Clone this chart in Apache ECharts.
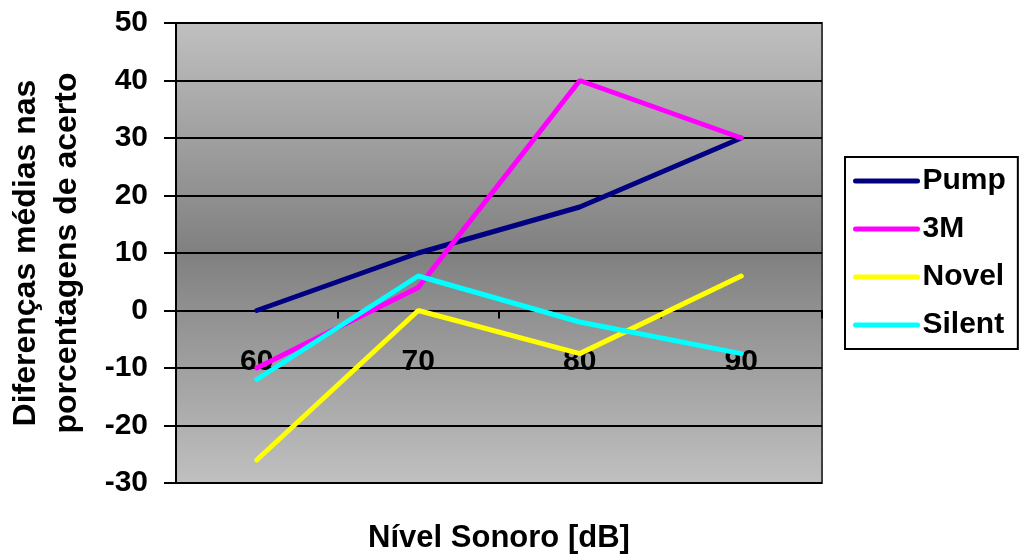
<!DOCTYPE html>
<html>
<head>
<meta charset="utf-8">
<script src="https://cdn.jsdelivr.net/npm/echarts@6/dist/echarts.min.js"></script>
<style>html,body{margin:0;padding:0;background:#fff}#c{width:1022px;height:556px}</style>
</head>
<body>
<div id="c"></div>
<script>
const categories = ['60', '70', '80', '90'];
const pump = [0, 10, 18, 30];
const m3 = [-10, 4, 40, 30];
const novel = [-26, 0, -7.5, 6];
const silent = [-12, 6, -2, -7.5];
const seriesNames = ['Pump', '3M', 'Novel', 'Silent'];
const yTicks = { min: -30, max: 50, interval: 10 };

const FONT = "'Liberation Sans', Arial, sans-serif";
const chart = echarts.init(document.getElementById('c'));
const colors = ['#000080', '#ff00ff', '#ffff00', '#00ffff'];
const datasets = [pump, m3, novel, silent];

// grid geometry
const gridTop = 23, gridBottom = 73, gridHeight = 556 - gridTop - gridBottom;
// x axis crosses the value axis at 0
const zeroOffset = -gridHeight * (0 - yTicks.min) / (yTicks.max - yTicks.min);

chart.setOption({
  animation: false,
  backgroundColor: '#ffffff',
  grid: {
    left: 176, right: 200, top: gridTop, bottom: gridBottom,
    containLabel: false,
    outerBoundsMode: 'none',
    show: true,
    borderColor: '#404040', borderWidth: 2,
    backgroundColor: new echarts.graphic.LinearGradient(0, 0, 0, 1, [
      { offset: 0, color: '#c0c0c0' },
      { offset: 0.5, color: '#808080' },
      { offset: 1, color: '#c0c0c0' }
    ])
  },
  legend: {
    orient: 'vertical',
    left: 845, top: 157,
    padding: [9, 12, 9, 8],
    itemWidth: 62, itemHeight: 30, itemGap: 18,
    borderColor: '#000', borderWidth: 2,
    backgroundColor: '#fff',
    itemStyle: { opacity: 0 },
    lineStyle: { width: 5, cap: 'round' },
    textStyle: { fontFamily: FONT, fontWeight: 'bold', fontSize: 30, color: '#000' },
    data: seriesNames
  },
  xAxis: {
    type: 'category',
    data: categories,
    boundaryGap: true,
    position: 'bottom',
    offset: zeroOffset,
    name: 'Nível Sonoro [dB]',
    nameLocation: 'middle',
    nameGap: 212,
    nameTextStyle: { fontFamily: FONT, fontWeight: 'bold', fontSize: 31, color: '#000' },
    axisLine: { onZero: false, lineStyle: { color: '#000', width: 2 } },
    axisTick: { show: true, length: 8, lineStyle: { color: '#000', width: 2 } },
    axisLabel: { margin: 36, fontFamily: FONT, fontWeight: 'bold', fontSize: 30, color: '#000' },
    splitLine: { show: false }
  },
  yAxis: {
    type: 'value',
    min: yTicks.min, max: yTicks.max, interval: yTicks.interval,
    name: 'Diferenças médias nas\nporcentagens de acerto',
    nameLocation: 'middle',
    nameGap: 88,
    nameRotate: 90,
    nameTextStyle: { fontFamily: FONT, fontWeight: 'bold', fontSize: 32, lineHeight: 41, color: '#000' },
    axisLine: { show: true, lineStyle: { color: '#000', width: 2 } },
    axisTick: { show: true, length: 12, lineStyle: { color: '#000', width: 2 } },
    axisLabel: { margin: 28, fontFamily: FONT, fontWeight: 'bold', fontSize: 30, color: '#000' },
    splitLine: { show: true, lineStyle: { color: '#000', width: 2 } }
  },
  series: seriesNames.map((n, i) => ({
    name: n,
    type: 'line',
    data: datasets[i],
    symbol: 'none',
    color: colors[i],
    lineStyle: { color: colors[i], width: 5, cap: 'round' },
    z: 3
  }))
});
</script>
</body>
</html>
